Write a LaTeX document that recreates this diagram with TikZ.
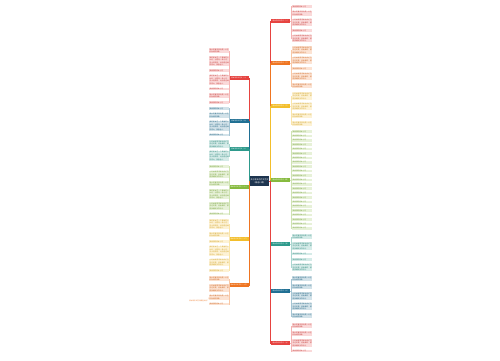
\documentclass[tikz,border=0pt]{standalone}
\usepackage{fontspec}
\newfontfamily\cjk{Noto Sans CJK SC}
\XeTeXlinebreaklocale "zh"
\XeTeXlinebreakskip=0pt plus 0.3pt
\definecolor{cR}{HTML}{E64340}
\definecolor{cO}{HTML}{EF7521}
\definecolor{cY}{HTML}{F3BE2B}
\definecolor{cG}{HTML}{86BA3E}
\definecolor{cT}{HTML}{2E9A8C}
\definecolor{cB}{HTML}{1F6F93}
\definecolor{cN}{HTML}{1E3550}
\newcommand\fillT[1]{\ifcase#1\or 我爱我的家乡小河\or 家乡的春天到处是一片生机勃勃的景象。\or 小时候我常常和伙伴们在河边玩耍，捉鱼摸虾，那是我最快乐的时光。\or 我的家乡在一个美丽的小山村，村前有一条小河，河水清清的，村后是连绵的青山，景色迷人。\or 我的家乡在一个美丽的小山村，村前有一条小河，河水清清的，村后是连绵的青山，景色迷人。每到夏天，荷花盛开。\fi}
\tikzset{
  leaf/.style={fill=#1!20, text=#1!85!black, inner sep=0.5pt, text width=19pt, align=justify,
    font=\cjk\fontsize{1.65}{2.5}\selectfont},
  branch/.style={fill=#1, text=white, inner sep=0.3pt, minimum width=19pt, minimum height=3.6pt,
    font=\cjk\fontsize{1.6}{2}\selectfont},
  tk/.style={draw=#1, line width=0.35pt},
  lk/.style={draw=#1!40, line width=0.15pt}
}
\begin{document}
\begin{tikzpicture}[x=1pt,y=-1pt]
\useasboundingbox[fill=white] (0,0) rectangle (500,360);
% centre
\node[fill=cN, text=white, minimum width=19pt, minimum height=10pt, inner sep=0.5pt, align=center,
  font=\cjk\fontsize{2}{2.8}\selectfont] (C) at (259.5,181) {关于家乡的作文范文\\（精选13篇）};
% right branches
\node[branch=cR, anchor=west] (R1) at (271,21) {家乡的作文范文（一）};
\node[branch=cO, anchor=west] (R2) at (271,63) {家乡的作文范文（二）};
\node[branch=cY, anchor=west] (R3) at (271,106) {家乡的作文范文（三）};
\node[branch=cG, anchor=west] (R4) at (271,180) {家乡的作文范文（四）};
\node[branch=cT, anchor=west] (R5) at (271,244) {家乡的作文范文（五）};
\node[branch=cB, anchor=west] (R6) at (271,291) {家乡的作文范文（六）};
\node[branch=cR, anchor=west] (R7) at (271,343) {家乡的作文范文（七）};
% left branches
\node[branch=cR, anchor=east] (L1) at (249,78) {家乡的作文范文（八）};
\node[branch=cB, anchor=east] (L2) at (249,121) {家乡的作文范文（九）};
\node[branch=cT, anchor=east] (L3) at (249,149) {家乡的作文范文（十）};
\node[branch=cG, anchor=east] (L4) at (249,187) {家乡的作文范文（十一）};
\node[branch=cY, anchor=east] (L5) at (249,239) {家乡的作文范文（十二）};
\node[branch=cO, anchor=east] (L6) at (249,285) {家乡的作文范文（十三）};
% trunk connectors
\foreach \b/\c in {R1/cR,R2/cO,R3/cY,R4/cG,R5/cT,R6/cB,R7/cR}
  \draw[tk=\c] (C.east) -- ++(1,0) |- (\b.west);
\foreach \b/\c in {L1/cR,L2/cB,L3/cT,L4/cG,L5/cY,L6/cO}
  \draw[tk=\c] (C.west) -- ++(-1,0) |- (\b.east);
% right leaves
\foreach \y/\n [count=\i] in {5/1,10.5/2,18.5/3,29/1,34.5/3}{
  \node[leaf=cR, anchor=north west] (ra\i) at (292,\y) {\fillT{\n}};
  \draw[lk=cR] (R1.east) -- ++(1,0) |- (ra\i.west);}
\foreach \y/\n [count=\i] in {46/3,56.5/3,67/1,72.5/3,83/2}{
  \node[leaf=cO, anchor=north west] (rb\i) at (292,\y) {\fillT{\n}};
  \draw[lk=cO] (R2.east) -- ++(1,0) |- (rb\i.west);}
\foreach \y/\n [count=\i] in {92/3,102.5/3,113/2,121/2}{
  \node[leaf=cY, anchor=north west] (rc\i) at (292,\y) {\fillT{\n}};
  \draw[lk=cY] (R3.east) -- ++(1,0) |- (rc\i.west);}
\foreach \k [count=\i] in {0,...,22}{
  \node[leaf=cG, anchor=north west] (rd\i) at (292,130+4.4*\k) {\fillT{1}};
  \draw[lk=cG] (R4.east) -- ++(1,0) |- (rd\i.west);}
\foreach \y/\n [count=\i] in {234/2,242/3,252.5/1,258/1,263.5/3}{
  \node[leaf=cT, anchor=north west] (re\i) at (292,\y) {\fillT{\n}};
  \draw[lk=cT] (R5.east) -- ++(1,0) |- (re\i.west);}
\foreach \y/\n [count=\i] in {276/2,284/2,292/3,302.5/3,313/2}{
  \node[leaf=cB, anchor=north west] (rf\i) at (292,\y) {\fillT{\n}};
  \draw[lk=cB] (R6.east) -- ++(1,0) |- (rf\i.west);}
\foreach \y/\n [count=\i] in {323/2,331/2,339/3,349.5/1}{
  \node[leaf=cR, anchor=north west] (rg\i) at (292,\y) {\fillT{\n}};
  \draw[lk=cR] (R7.east) -- ++(1,0) |- (rg\i.west);}
% left leaves
\foreach \y/\n [count=\i] in {48/2,56/4,69/1,74.5/4,87.5/1,93/2,101/1}{
  \node[leaf=cR, anchor=north west] (la\i) at (209,\y) {\fillT{\n}};
  \draw[lk=cR] (L1.west) -- ++(-0.5,0) |- (la\i.east);}
\foreach \y/\n [count=\i] in {107/1,112.5/2,120.5/4,133.5/1}{
  \node[leaf=cB, anchor=north west] (lb\i) at (209,\y) {\fillT{\n}};
  \draw[lk=cB] (L2.west) -- ++(-0.5,0) |- (lb\i.east);}
\foreach \y/\n [count=\i] in {140/3,150.5/4}{
  \node[leaf=cT, anchor=north west] (lc\i) at (209,\y) {\fillT{\n}};
  \draw[lk=cT] (L3.west) -- ++(-0.5,0) |- (lc\i.east);}
\foreach \y/\n [count=\i] in {165/1,170.5/3,181/2,189/4,202/3,212.5/1}{
  \node[leaf=cG, anchor=north west] (ld\i) at (209,\y) {\fillT{\n}};
  \draw[lk=cG] (L4.west) -- ++(-0.5,0) |- (ld\i.east);}
\foreach \y/\n [count=\i] in {219/4,232/2,240/1,245.5/4,258.5/3,269/1}{
  \node[leaf=cY, anchor=north west] (le\i) at (209,\y) {\fillT{\n}};
  \draw[lk=cY] (L5.west) -- ++(-0.5,0) |- (le\i.east);}
\foreach \y/\n [count=\i] in {276/2,284/3,294.5/2,302.5/1}{
  \node[leaf=cO, anchor=north west] (lf\i) at (209,\y) {\fillT{\n}};
  \draw[lk=cO] (L6.west) -- ++(-0.5,0) |- (lf\i.east);}
% sub-leaf at the far left
\node[text=cO, inner sep=0.3pt, anchor=east, font=\cjk\fontsize{1.6}{2}\selectfont] (sub) at (207.5,300.5) {家乡的作文范文精选片段};
\draw[lk=cO] (lf3.west) -- (sub.east);
\end{tikzpicture}
\end{document}
